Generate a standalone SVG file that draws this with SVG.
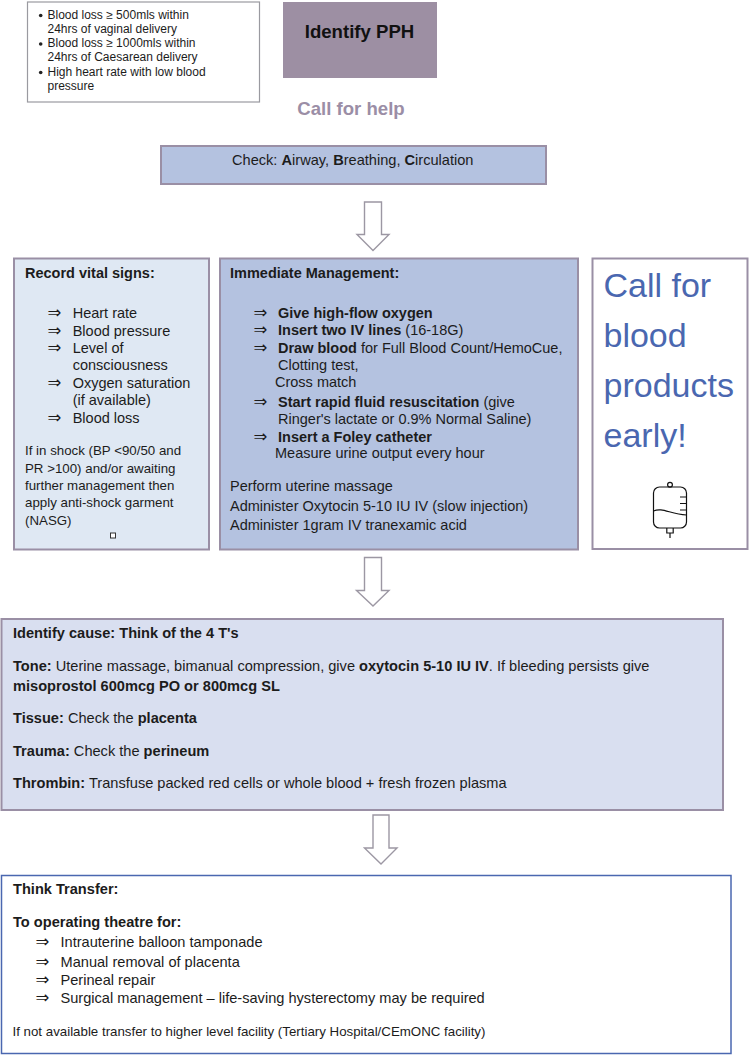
<svg xmlns="http://www.w3.org/2000/svg" width="750" height="1056" viewBox="0 0 750 1056">
<style>
text{font-family:"Liberation Sans","DejaVu Sans",sans-serif;fill:#1c1c1c;font-size:14.5px}
.b{font-weight:bold}
.s{font-size:13.3px}
.t{font-size:12px}
.c{font-size:14.6px}
.d{font-size:14.6px}
.ar{font-family:"DejaVu Sans",sans-serif;font-size:16.5px}
.h{font-size:18.6px;font-weight:bold}
.box{stroke:#9a8fa5;stroke-width:2}
.arrow{fill:#fff;stroke:#9c97a3;stroke-width:1.4}
.big{font-size:34px;fill:#4a67b0}
.icon{fill:none;stroke:#111;stroke-width:1.2}
</style>
<rect width="750" height="1056" fill="#fff"/>
<g id="connectors">
<polygon class="arrow" points="364.5,202 381.5,202 381.5,234.5 389,234.5 373,250.5 357,234.5 364.5,234.5"/>
<polygon class="arrow" points="364.5,557.5 381.5,557.5 381.5,590.5 389,590.5 373,606 356.5,590.5 364.5,590.5"/>
<polygon class="arrow" points="373,815 389,815 389,848 397,848 381,864 364.5,848 373,848"/>
</g>
<g id="criteria">
<rect x="27.5" y="2" width="232" height="100" fill="#fff" stroke="#9a9aa0" stroke-width="1.2"/>
<circle cx="40.7" cy="15.5" r="1.8" fill="#222"/>
<circle cx="40.7" cy="44" r="1.8" fill="#222"/>
<circle cx="40.7" cy="72.5" r="1.8" fill="#222"/>
<text class="t" x="47.5" y="19">Blood loss ≥ 500mls within</text>
<text class="t" x="47.5" y="33">24hrs of vaginal delivery</text>
<text class="t" x="47.5" y="47.3">Blood loss ≥ 1000mls within</text>
<text class="t" x="47.5" y="61.3">24hrs of Caesarean delivery</text>
<text class="t" x="47.5" y="75.7">High heart rate with low blood</text>
<text class="t" x="47.5" y="90">pressure</text>
</g>
<g id="identify">
<rect x="283" y="2" width="154" height="76" fill="#9d8fa3"/>
<text class="h" x="359.5" y="38" text-anchor="middle" style="fill:#111">Identify PPH</text>
</g>
<g id="call-for-help">
<text class="h" x="351" y="114.5" text-anchor="middle" style="fill:#9b8ea6">Call for help</text>
</g>
<g id="check">
<rect class="box" x="161" y="146" width="385" height="38" fill="#b4c2e0"/>
<text class="c" x="232" y="165">Check: <tspan class="b">A</tspan>irway, <tspan class="b">B</tspan>reathing, <tspan class="b">C</tspan>irculation</text>
</g>
<g id="vital-signs">
<rect class="box" x="14" y="258.5" width="195" height="291" fill="#dfe8f3"/>
<text class="b" x="25" y="277.7">Record vital signs:</text>
<text class="ar" x="47.5" y="317.7">⇒</text><text x="72.7" y="317.7">Heart rate</text>
<text class="ar" x="47.5" y="335.7">⇒</text><text x="72.7" y="335.7">Blood pressure</text>
<text class="ar" x="47.5" y="353">⇒</text><text x="72.7" y="353">Level of</text>
<text x="72.7" y="370">consciousness</text>
<text class="ar" x="47.5" y="388">⇒</text><text x="72.7" y="388">Oxygen saturation</text>
<text x="72.7" y="405">(if available)</text>
<text class="ar" x="47.5" y="422.7">⇒</text><text x="72.7" y="422.7">Blood loss</text>
<text class="s" x="25" y="455">If in shock (BP &lt;90/50 and</text>
<text class="s" x="25" y="472.7">PR &gt;100) and/or awaiting</text>
<text class="s" x="25" y="490">further management then</text>
<text class="s" x="25" y="507">apply anti-shock garment</text>
<text class="s" x="25" y="525">(NASG)</text>
<rect x="110.5" y="533" width="5" height="5" fill="#fff" stroke="#333" stroke-width="1"/>
</g>
<g id="immediate-management">
<rect class="box" x="220" y="258.5" width="358" height="291" fill="#b4c2e0"/>
<text class="b" x="230" y="277.7">Immediate Management:</text>
<text class="ar" x="253.5" y="317.7">⇒</text><text class="b" x="278" y="317.7">Give high-flow oxygen</text>
<text class="ar" x="253.5" y="335">⇒</text><text x="278" y="335"><tspan class="b">Insert two IV lines</tspan> (16-18G)</text>
<text class="ar" x="253.5" y="352.7">⇒</text><text x="278" y="352.7"><tspan class="b">Draw blood</tspan> for Full Blood Count/HemoCue,</text>
<text x="278" y="370">Clotting test,</text>
<text x="275" y="386.7">Cross match</text>
<text class="ar" x="253.5" y="407">⇒</text><text x="278" y="407"><tspan class="b">Start rapid fluid resuscitation</tspan> (give</text>
<text x="278" y="424">Ringer's lactate or 0.9% Normal Saline)</text>
<text class="ar" x="253.5" y="441.7">⇒</text><text class="b" x="278" y="441.7">Insert a Foley catheter</text>
<text x="275" y="458">Measure urine output every hour</text>
<text x="230" y="491">Perform uterine massage</text>
<text x="230" y="510.7">Administer Oxytocin 5-10 IU IV (slow injection)</text>
<text x="230" y="530">Administer 1gram IV tranexamic acid</text>
</g>
<g id="blood-products">
<rect class="box" x="592.5" y="258.5" width="155" height="290.5" fill="#fff"/>
<text class="big" x="603.5" y="296.7">Call for</text>
<text class="big" x="603.5" y="346.7">blood</text>
<text class="big" x="603.5" y="396.7">products</text>
<text class="big" x="603.5" y="446.7">early!</text>
<circle class="icon" cx="670" cy="484.7" r="2.4"/>
<rect class="icon" x="653.5" y="487" width="33" height="41" rx="6"/>
<path class="icon" d="M653.5 511C662 507 670 514 686.5 515M680 497H686.5M680 503.5H686.5M680 510H686.5"/>
<path class="icon" d="M666.8 528V533H673.2V528M670 533V538"/>
</g>
<g id="identify-cause">
<rect class="box" x="1.5" y="619" width="721.5" height="191" fill="#d9dff0"/>
<text class="b d" x="13" y="638">Identify cause: Think of the 4 T's</text>
<text class="d" x="13" y="670.7"><tspan class="b">Tone:</tspan> Uterine massage, bimanual compression, give <tspan class="b">oxytocin 5-10 IU IV</tspan>. If bleeding persists give</text>
<text class="b d" x="13" y="690.7">misoprostol 600mcg PO or 800mcg SL</text>
<text class="d" x="13" y="722.7"><tspan class="b">Tissue:</tspan> Check the <tspan class="b">placenta</tspan></text>
<text class="d" x="13" y="755.7"><tspan class="b">Trauma:</tspan> Check the <tspan class="b">perineum</tspan></text>
<text class="d" x="13" y="788"><tspan class="b">Thrombin:</tspan> Transfuse packed red cells or whole blood + fresh frozen plasma</text>
</g>
<g id="transfer">
<rect x="1.5" y="875.5" width="729.5" height="178" fill="#fff" stroke="#4a67b0" stroke-width="1.5"/>
<text class="b d" x="13" y="894">Think Transfer:</text>
<text class="b d" x="13" y="927">To operating theatre for:</text>
<text class="ar" x="35.5" y="947">⇒</text><text class="d" x="60.5" y="947">Intrauterine balloon tamponade</text>
<text class="ar" x="35.5" y="967">⇒</text><text class="d" x="60.5" y="967">Manual removal of placenta</text>
<text class="ar" x="35.5" y="985">⇒</text><text class="d" x="60.5" y="985">Perineal repair</text>
<text class="ar" x="35.5" y="1003">⇒</text><text class="d" x="60.5" y="1003">Surgical management – life-saving hysterectomy may be required</text>
<text class="s" x="12.5" y="1036">If not available transfer to higher level facility (Tertiary Hospital/CEmONC facility)</text>
</g>
</svg>
